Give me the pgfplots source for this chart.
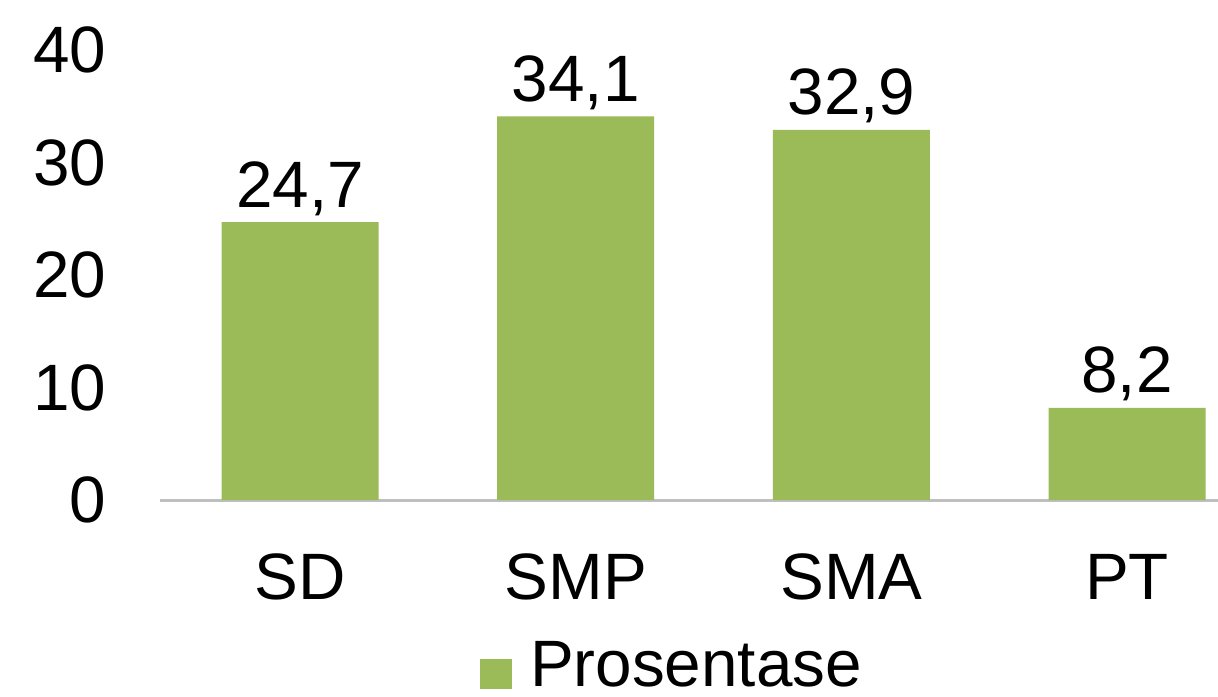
\documentclass[border=0pt]{standalone}
\usepackage{fontspec}
\setmainfont{Liberation Sans}
\usepackage{pgfplots}
\pgfplotsset{compat=1.18}
\definecolor{bargreen}{HTML}{9BBB59}
\newcommand{\chartfont}{\fontsize{16.4pt}{19pt}\selectfont}

\begin{document}
\begin{tikzpicture}
% page = 1218x696 px at 0.25pt per px
\useasboundingbox (0pt,0pt) rectangle (304.5pt,174pt);
\begin{axis}[
  at={(40pt,49pt)},anchor=south west,
  scale only axis,width=264.5pt,height=112.5pt,
  xmin=-0.508,xmax=3.33,ymin=0,ymax=40,
  axis lines*=left,
  y axis line style={draw=none},
  x axis line style={draw=black!25,line width=0.75pt},
  major tick style={draw=none},
  ytick={0,10,20,30,40},
  xtick={0,1,2,3},xticklabels={SD,SMP,SMA,PT},
  /pgf/number format/assume math mode=true,
  tick label style={font=\chartfont,inner sep=0pt},
  yticklabel shift=13.2pt,
  xticklabel shift=9pt,
  ybar,bar width=39.25pt,
  nodes near coords={\pgfmathprintnumber[fixed,fixed zerofill,precision=1,use comma]{\pgfplotspointmeta}},
  every node near coord/.append style={font=\chartfont,anchor=base,inner sep=0pt,yshift=3.75pt},
  legend style={at={(0.3025,-0.37)},anchor=west,draw=none,fill=none,inner sep=0pt,outer sep=0pt,
    font=\chartfont,nodes={inner sep=0pt}},
  legend image code/.code={\fill[#1] (0pt,-5.5pt) rectangle (8pt,2pt); \path (12.5pt,0pt);},
]
\addplot[fill=bargreen,draw=none] coordinates {(0,24.7) (1,34.1) (2,32.9) (3,8.2)};
\addlegendentry{Prosentase}
\end{axis}
\end{tikzpicture}
\end{document}
